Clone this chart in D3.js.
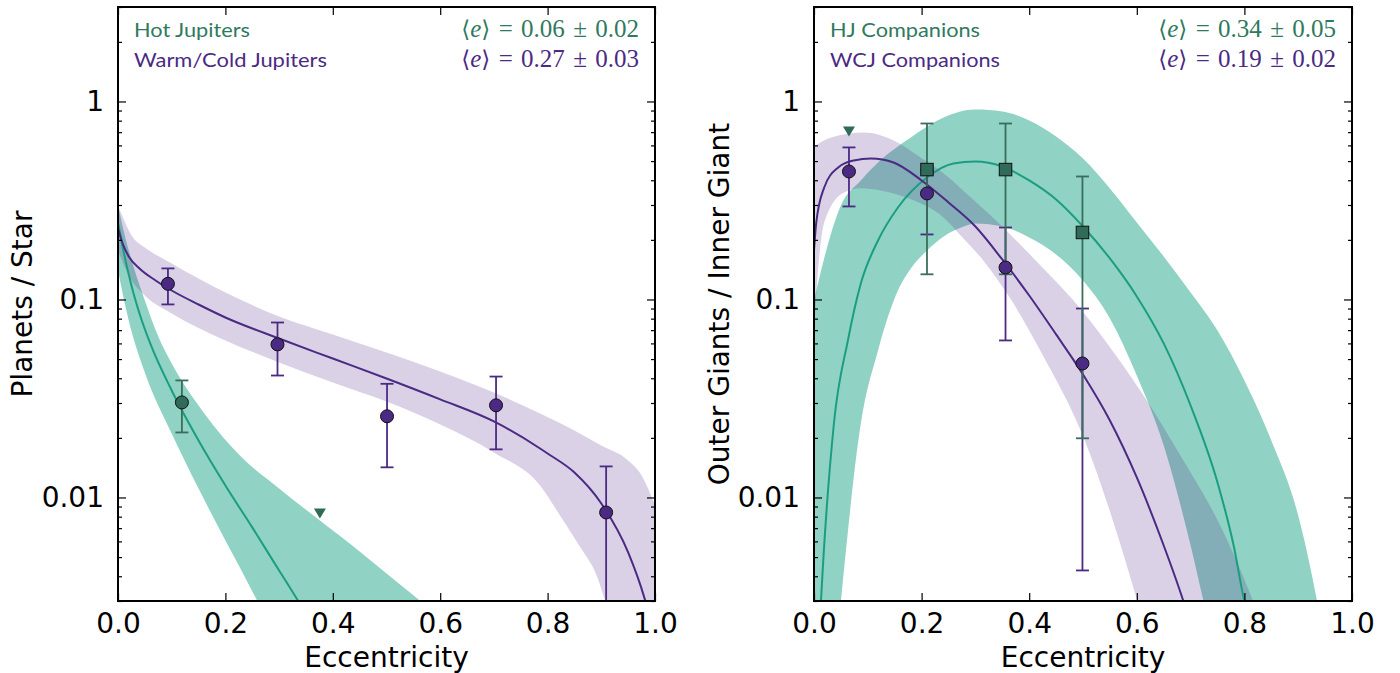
<!DOCTYPE html>
<html>
<head>
<meta charset="utf-8">
<script src="https://cdn.jsdelivr.net/npm/d3@7"></script>
<style>
  body { margin: 0; background: #fff; }
  svg { display: block; }
</style>
</head>
<body>
<svg id="fig" width="1400" height="673"></svg>
<script>
// ---------------- data ----------------
const xTickValues = [0.0, 0.2, 0.4, 0.6, 0.8, 1.0];
const yTickValues = [0.01, 0.1, 1];
const yTickLabels = ["0.01", "0.1", "1"];
const yMinorValues = [0.003, 0.004, 0.005, 0.006, 0.007, 0.008, 0.009,
  0.02, 0.03, 0.04, 0.05, 0.06, 0.07, 0.08, 0.09,
  0.2, 0.3, 0.4, 0.5, 0.6, 0.7, 0.8, 0.9, 2, 3];

// Left panel: planets per star vs eccentricity
const wcjE    = [0.093, 0.297, 0.501, 0.704, 0.909];
const wcjRate = [0.120, 0.0593, 0.0257, 0.0292, 0.0084];
const wcjHi   = [0.1435, 0.0765, 0.0375, 0.0408, 0.01435];
const wcjLo   = [0.0944, 0.0413, 0.0142, 0.0175, 0.0005];

const hjE    = [0.119];
const hjRate = [0.0302];
const hjHi   = [0.039];
const hjLo   = [0.0213];
const hjLimitE = [0.376];
const hjLimit  = [0.0083];

const wcjFit = [[0, 0.2284], [0.01, 0.1874], [0.02, 0.1649], [0.04, 0.1434], [0.07, 0.1247],
  [0.1, 0.1110], [0.15, 0.0943], [0.2, 0.0811], [0.3, 0.0635], [0.4, 0.0503], [0.5, 0.0399],
  [0.6, 0.0313], [0.7, 0.0242], [0.786, 0.01768], [0.8, 0.01668], [0.85, 0.01337], [0.9, 0.00933],
  [0.95, 0.00528], [0.98, 0.00313], [0.99, 0.0025]];
const wcjBandHi = [[0, 0.2984], [0.028, 0.2056], [0.05, 0.1831], [0.1, 0.1520], [0.2, 0.1085],
  [0.3, 0.0821], [0.4, 0.0666], [0.5, 0.0540], [0.6, 0.0433], [0.7, 0.0339], [0.786, 0.02656],
  [0.85, 0.02180], [0.9, 0.01831], [0.95, 0.01538], [0.975, 0.01292], [1.0, 0.00911]];
const wcjBandLo = [[0, 0.1768], [0.02, 0.1322], [0.05, 0.1047], [0.1, 0.0850], [0.2, 0.0621],
  [0.3, 0.0481], [0.4, 0.0381], [0.5, 0.0305], [0.6, 0.02337], [0.7, 0.01688], [0.786, 0.01149],
  [0.823, 0.00811], [0.86, 0.00565], [0.892, 0.00399], [0.907, 0.00302], [0.95, 0.0012], [1.0, 0.0005]];

const hjFit = [[0, 0.2448], [0.01, 0.1768], [0.02, 0.1338], [0.03, 0.1047], [0.04, 0.0850],
  [0.06, 0.0600], [0.1, 0.0347], [0.15, 0.0194], [0.2, 0.01149], [0.25, 0.00706],
  [0.3, 0.00428], [0.335, 0.00302], [0.36, 0.00234]];
const hjBandHi = [[0, 0.2984], [0.015, 0.1986], [0.03, 0.1434], [0.05, 0.0989], [0.075, 0.0650],
  [0.1, 0.0475], [0.15, 0.02914], [0.227, 0.01630], [0.3, 0.01110], [0.376, 0.00765],
  [0.45, 0.00534], [0.5, 0.00413], [0.562, 0.00302], [0.6, 0.00249]];
const hjBandLo = [[0, 0.1401], [0.02, 0.0783], [0.05, 0.0428], [0.1, 0.02105], [0.15, 0.0111],
  [0.2, 0.00607], [0.227, 0.00443], [0.259, 0.00302], [0.3, 0.0019]];

// Right panel: outer giants per inner giant vs eccentricity
const wcjcE    = [0.065, 0.210, 0.356, 0.499];
const wcjcRate = [0.443, 0.343, 0.145, 0.0475];
const wcjcHi   = [0.586, 0.45, 0.231, 0.090];
const wcjcLo   = [0.295, 0.213, 0.0621, 0.00428];

const hjcE    = [0.210, 0.356, 0.499];
const hjcRate = [0.453, 0.453, 0.218];
const hjcHi   = [0.774, 0.774, 0.418];
const hjcLo   = [0.134, 0.134, 0.0199];
const hjcLimitE = [0.065];
const hjcLimit  = [0.705];

const wcjcFit = [[0, 0.1768], [0.004, 0.2420], [0.019, 0.3679], [0.045, 0.4642], [0.074, 0.5035],
  [0.106, 0.5154], [0.148, 0.4918], [0.2, 0.3990], [0.25, 0.3090], [0.3, 0.2337], [0.35, 0.1592],
  [0.4, 0.1047], [0.45, 0.0666], [0.5, 0.0418], [0.55, 0.02449], [0.6, 0.01262], [0.65, 0.00572],
  [0.68, 0.00339], [0.69, 0.00281]];
const wcjcBandHi = [[0, 0.593], [0.032, 0.658], [0.093, 0.697], [0.148, 0.635], [0.198, 0.521],
  [0.241, 0.433], [0.291, 0.328], [0.328, 0.266], [0.421, 0.1485], [0.482, 0.099], [0.545, 0.06],
  [0.61, 0.0335], [0.681, 0.0163], [0.755, 0.00722], [0.816, 0.003], [0.84, 0.002]];
const wcjcBandLo = [[0, 0.0697], [0.009, 0.157], [0.02, 0.25], [0.056, 0.347], [0.087, 0.364],
  [0.124, 0.355], [0.186, 0.316], [0.236, 0.266], [0.273, 0.21], [0.315, 0.157], [0.365, 0.101],
  [0.421, 0.055], [0.501, 0.0201], [0.601, 0.003], [0.65, 0.001]];

const hjcFit = [[0, 0.0005], [0.013, 0.003], [0.037, 0.02364], [0.063, 0.0621], [0.087, 0.1204],
  [0.119, 0.1986], [0.156, 0.2915], [0.21, 0.4132], [0.259, 0.4862], [0.3, 0.4977], [0.35, 0.4694],
  [0.4, 0.3990], [0.45, 0.3199], [0.5, 0.2337], [0.55, 0.1611], [0.6, 0.1036], [0.65, 0.0600],
  [0.7, 0.02914], [0.75, 0.01191], [0.78, 0.00572], [0.8, 0.003], [0.81, 0.00239]];
const hjcBandHi = [[0, 0.0989], [0.01, 0.1292], [0.05, 0.2984], [0.087, 0.3990], [0.119, 0.4918],
  [0.18, 0.6579], [0.241, 0.8302], [0.3, 0.9112], [0.35, 0.8903], [0.4, 0.8017], [0.45, 0.6659],
  [0.5, 0.5154], [0.55, 0.3636], [0.6, 0.2448], [0.65, 0.1649], [0.7, 0.1085], [0.75, 0.0697],
  [0.8, 0.0390], [0.85, 0.0194], [0.9, 0.00811], [0.935, 0.003], [0.96, 0.0012]];
const hjcBandLo = [[0, 0.0001], [0.03, 0.0008], [0.05, 0.003], [0.087, 0.02364], [0.119, 0.0553],
  [0.156, 0.1110], [0.18, 0.1434], [0.21, 0.1768], [0.241, 0.2081], [0.278, 0.2337], [0.3, 0.2420],
  [0.35, 0.2337], [0.4, 0.2056], [0.45, 0.1687], [0.5, 0.1247], [0.55, 0.0802], [0.6, 0.0413],
  [0.65, 0.01831], [0.7, 0.00572], [0.724, 0.003], [0.76, 0.0012]];

// ---------------- styling ----------------
const PURPLE = "#4b2a84";
const PURPLE_BAND = "rgba(84,39,136,0.21)";
const TEAL_LINE = "#1b9e80";
const TEAL_BAND = "rgba(33,165,137,0.5)";
const GREEN_MARK = "#2f6b58";
const GREEN_BAR = "#3a6e5c";
const GREEN_TEXT = "#2f7a5e";

const svg = d3.select("#fig");
const defs = svg.append("defs");
const TOP = 7, BOTTOM = 601;

function bandPath(line, hi, lo) {
  const a = line(hi);
  const b = line(lo.slice().reverse());
  return a + "L" + b.slice(1) + "Z";
}

function drawPanel(cfg) {
  const x = d3.scaleLinear().domain([0, 1]).range([cfg.left, cfg.right]);
  const y = d3.scaleLog().domain([0.003, 3]).range([BOTTOM, TOP]);
  const line = d3.line().x(d => x(d[0])).y(d => y(d[1])).curve(d3.curveMonotoneX);

  defs.append("clipPath").attr("id", cfg.id + "-clip").append("rect")
    .attr("x", cfg.left).attr("y", TOP).attr("width", cfg.right - cfg.left).attr("height", BOTTOM - TOP);

  const plot = svg.append("g").attr("clip-path", `url(#${cfg.id}-clip)`);

  // confidence bands
  plot.append("path").attr("d", bandPath(line, cfg.tealHi, cfg.tealLo)).attr("fill", TEAL_BAND);
  plot.append("path").attr("d", bandPath(line, cfg.purpleHi, cfg.purpleLo)).attr("fill", PURPLE_BAND);

  // best-fit curves
  plot.append("path").attr("d", line(cfg.tealFit)).attr("fill", "none")
    .attr("stroke", TEAL_LINE).attr("stroke-width", 2);
  plot.append("path").attr("d", line(cfg.purpleFit)).attr("fill", "none")
    .attr("stroke", PURPLE).attr("stroke-width", 2);

  // error bars
  function errBars(es, lo, hi, color) {
    const cap = 6.5;
    es.forEach((e, i) => {
      const g = plot.append("g").attr("stroke", color).attr("stroke-width", 1.8);
      g.append("line").attr("x1", x(e)).attr("x2", x(e)).attr("y1", y(lo[i])).attr("y2", y(hi[i]));
      g.append("line").attr("x1", x(e) - cap).attr("x2", x(e) + cap).attr("y1", y(lo[i])).attr("y2", y(lo[i]));
      g.append("line").attr("x1", x(e) - cap).attr("x2", x(e) + cap).attr("y1", y(hi[i])).attr("y2", y(hi[i]));
    });
  }
  errBars(cfg.purpleE, cfg.purpleLoErr, cfg.purpleHiErr, PURPLE);
  errBars(cfg.tealE, cfg.tealLoErr, cfg.tealHiErr, GREEN_BAR);

  // markers
  plot.selectAll(null).data(cfg.purpleE).enter().append("circle")
    .attr("cx", d => x(d)).attr("cy", (d, i) => y(cfg.purpleRate[i])).attr("r", 6.5)
    .attr("fill", PURPLE).attr("stroke", "#111").attr("stroke-width", 1);
  if (cfg.tealShape === "circle") {
    plot.selectAll(null).data(cfg.tealE).enter().append("circle")
      .attr("cx", d => x(d)).attr("cy", (d, i) => y(cfg.tealRate[i])).attr("r", 6.5)
      .attr("fill", GREEN_MARK).attr("stroke", "#111").attr("stroke-width", 1);
  } else {
    const s = 12.5;
    plot.selectAll(null).data(cfg.tealE).enter().append("rect")
      .attr("x", d => x(d) - s / 2).attr("y", (d, i) => y(cfg.tealRate[i]) - s / 2)
      .attr("width", s).attr("height", s)
      .attr("fill", GREEN_MARK).attr("stroke", "#111").attr("stroke-width", 1);
  }
  // upper-limit triangles
  plot.selectAll(null).data(cfg.limE).enter().append("path")
    .attr("transform", (d, i) => `translate(${x(d)},${y(cfg.lim[i])})`)
    .attr("d", "M-6,-5L6,-5L0,5Z").attr("fill", GREEN_MARK);

  // axes with inward ticks on all sides
  const axG = svg.append("g").attr("class", "axes");
  const fmtY = d => yTickLabels[yTickValues.indexOf(d)];
  const styleAxis = sel => {
    sel.select(".domain").remove();
    sel.selectAll(".tick line").attr("stroke", "#000").attr("stroke-width", 1.2);
    sel.selectAll("text").attr("font-family", "DejaVu Sans, sans-serif").attr("font-size", 28).attr("fill", "#000");
  };
  axG.append("g").attr("transform", `translate(0,${BOTTOM})`)
    .call(d3.axisBottom(x).tickValues(xTickValues).tickFormat(d3.format(".1f")).tickSize(-8).tickPadding(12))
    .call(styleAxis);
  axG.append("g").attr("transform", `translate(0,${TOP})`)
    .call(d3.axisTop(x).tickValues(xTickValues).tickFormat("").tickSize(-8))
    .call(styleAxis);
  axG.append("g").attr("transform", `translate(${cfg.left},0)`)
    .call(d3.axisLeft(y).tickValues(yTickValues).tickFormat(fmtY).tickSize(-8).tickPadding(14))
    .call(styleAxis);
  axG.append("g").attr("transform", `translate(${cfg.left},0)`)
    .call(d3.axisLeft(y).tickValues(yMinorValues).tickFormat("").tickSize(-4))
    .call(styleAxis);
  axG.append("g").attr("transform", `translate(${cfg.right},0)`)
    .call(d3.axisRight(y).tickValues(yTickValues).tickFormat("").tickSize(-8))
    .call(styleAxis);
  axG.append("g").attr("transform", `translate(${cfg.right},0)`)
    .call(d3.axisRight(y).tickValues(yMinorValues).tickFormat("").tickSize(-4))
    .call(styleAxis);

  // frame
  svg.append("rect").attr("x", cfg.left).attr("y", TOP)
    .attr("width", cfg.right - cfg.left).attr("height", BOTTOM - TOP)
    .attr("fill", "none").attr("stroke", "#000").attr("stroke-width", 2);

  // axis titles
  svg.append("text").attr("x", (cfg.left + cfg.right) / 2).attr("y", 667)
    .attr("text-anchor", "middle").attr("font-family", "DejaVu Sans, sans-serif")
    .attr("font-size", 28).text("Eccentricity");
  svg.append("text")
    .attr("transform", `translate(${cfg.ylabelX},${(TOP + BOTTOM) / 2}) rotate(-90)`)
    .attr("text-anchor", "middle").attr("font-family", "DejaVu Sans, sans-serif")
    .attr("font-size", 28).text(cfg.ylabel);

  // legend text
  const legend = [
    { name: cfg.tealName, mean: cfg.tealMean, color: GREEN_TEXT, yb: 37, w: cfg.tealNameW },
    { name: cfg.purpleName, mean: cfg.purpleMean, color: PURPLE, yb: 67, w: cfg.purpleNameW }
  ];
  const sp = "\u2004";
  legend.forEach(l => {
    svg.append("text").attr("x", cfg.left + 16).attr("y", l.yb)
      .attr("font-family", "Lato, 'Open Sans', sans-serif").attr("font-size", 20)
      .attr("fill", l.color).attr("textLength", l.w).attr("lengthAdjust", "spacingAndGlyphs")
      .text(l.name);
    const t = svg.append("text").attr("x", cfg.right - 16).attr("y", l.yb)
      .attr("text-anchor", "end").attr("font-family", "'Liberation Serif', 'DejaVu Serif', serif")
      .attr("font-size", 25).attr("fill", l.color);
    t.append("tspan").attr("font-family", "'DejaVu Serif', serif").attr("font-size", 23).text("\u27E8");
    t.append("tspan").attr("font-style", "italic").text("e");
    t.append("tspan").attr("font-family", "'DejaVu Serif', serif").attr("font-size", 23).text("\u27E9");
    const parts = l.mean.split(" \u00B1 ");
    t.append("tspan").text(sp + "=" + sp + parts[0] + sp + "\u00B1" + sp + parts[1]);
  });
}

drawPanel({
  id: "left", left: 118, right: 655, ylabelX: 32, ylabel: "Planets / Star",
  tealHi: hjBandHi, tealLo: hjBandLo, tealFit: hjFit,
  purpleHi: wcjBandHi, purpleLo: wcjBandLo, purpleFit: wcjFit,
  purpleE: wcjE, purpleRate: wcjRate, purpleLoErr: wcjLo, purpleHiErr: wcjHi,
  tealE: hjE, tealRate: hjRate, tealLoErr: hjLo, tealHiErr: hjHi, tealShape: "circle",
  limE: hjLimitE, lim: hjLimit,
  tealName: "Hot Jupiters", tealNameW: 116, tealMean: "0.06 \u00B1 0.02",
  purpleName: "Warm/Cold Jupiters", purpleNameW: 193, purpleMean: "0.27 \u00B1 0.03"
});

drawPanel({
  id: "right", left: 814, right: 1352, ylabelX: 729, ylabel: "Outer Giants / Inner Giant",
  tealHi: hjcBandHi, tealLo: hjcBandLo, tealFit: hjcFit,
  purpleHi: wcjcBandHi, purpleLo: wcjcBandLo, purpleFit: wcjcFit,
  purpleE: wcjcE, purpleRate: wcjcRate, purpleLoErr: wcjcLo, purpleHiErr: wcjcHi,
  tealE: hjcE, tealRate: hjcRate, tealLoErr: hjcLo, tealHiErr: hjcHi, tealShape: "square",
  limE: hjcLimitE, lim: hjcLimit,
  tealName: "HJ Companions", tealNameW: 150, tealMean: "0.34 \u00B1 0.05",
  purpleName: "WCJ Companions", purpleNameW: 170, purpleMean: "0.19 \u00B1 0.02"
});
</script>
</body>
</html>
